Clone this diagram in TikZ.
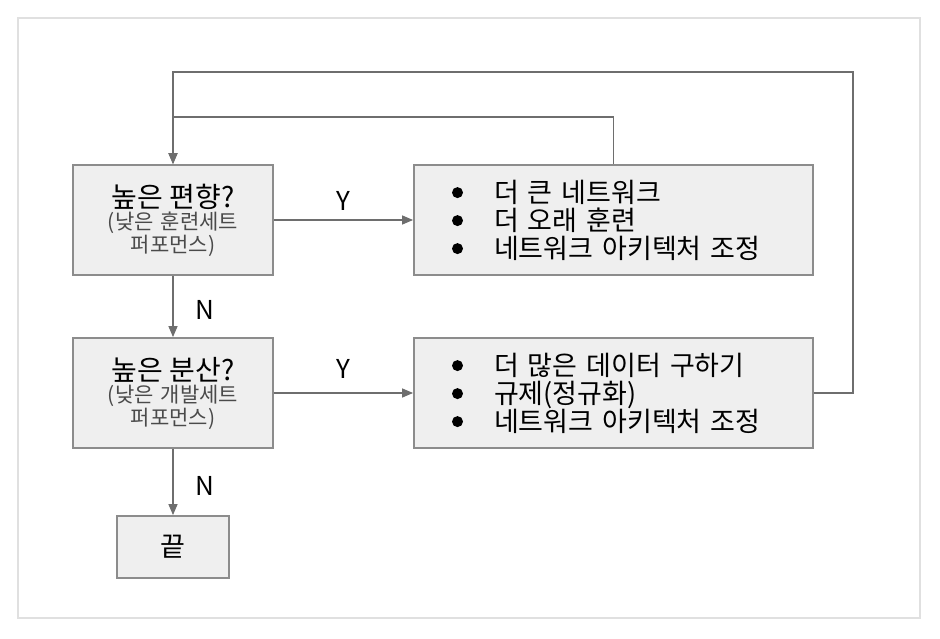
\documentclass[tikz,border=0pt]{standalone}
\usepackage{fontspec}
\setmainfont{Noto Sans CJK KR}
\usetikzlibrary{arrows.meta}

\definecolor{boxfill}{HTML}{EFEFEF}
\definecolor{boxline}{HTML}{8C8C8C}
\definecolor{linkline}{HTML}{6E6E6E}
\definecolor{frameline}{HTML}{E0E0E0}
\definecolor{subtext}{HTML}{4A4A4A}

\newcommand{\bul}{\makebox[42pt][l]{\tikz[baseline=-9.5pt]\fill (0,0) circle (5.5pt);}}

\begin{document}
\begin{tikzpicture}
  [x=1pt,y=-1pt,
   box/.style={draw=boxline,fill=boxfill,line width=1.8pt,inner sep=0pt,text=black},
   test/.style={box,minimum width=200pt,minimum height=110pt,text width=200pt,align=center,
     font=\fontsize{21}{22.5}\selectfont},
   fixbox/.style={box,minimum height=110pt,text width=323pt,inner xsep=38pt,align=left,
     font=\fontsize{27}{28}\selectfont},
   link/.style={draw=linkline,line width=1.4pt,-{Triangle[length=11pt,width=9pt]}},
   yn/.style={font=\fontsize{26}{26}\selectfont,text=black}]
  \useasboundingbox (0,0) rectangle (940,638);
  \draw[frameline,line width=1.2pt] (18,18) rectangle (920,618);

  % tests
  \node[test] (bias) at (173,220) {{\fontsize{28}{23}\selectfont 높은 편향?}\\
    \color{subtext}(낮은 훈련세트\\ 퍼포먼스)};
  \node[test] (var) at (173,393) {{\fontsize{28}{23}\selectfont 높은 분산?}\\
    \color{subtext}(낮은 개발세트\\ 퍼포먼스)};
  \node[box,minimum width=112pt,minimum height=62pt,font=\fontsize{27}{27}\selectfont] (done) at (173,547) {끝};

  % fixes
  \node[fixbox] (biasfix) at (613.5,220) {\bul 더 큰 네트워크\\ \bul 더 오래 훈련\\ \bul 네트워크 아키텍처 조정};
  \node[fixbox] (varfix) at (613.5,393) {\bul 더 많은 데이터 구하기\\ \bul 규제(정규화)\\ \bul 네트워크 아키텍처 조정};

  \foreach \from/\to in {bias.east/biasfix.west, var.east/varfix.west, bias.south/var.north, var.south/done.north}
    \draw[link] (\from) -- (\to);

  \draw[link] (biasfix.north) |- ([yshift=47pt]bias.north) -- (bias.north);
  \draw[link] (varfix.east) -- ++(39,0) |- ([yshift=92pt]bias.north) -- (bias.north);

  \node[yn] (ybias) at (343,201) {Y};
  \node[yn] (yvar) at (343,369) {Y};
  \node[yn] (nbias) at (205,310) {N};
  \node[yn] (nvar) at (205,486) {N};
\end{tikzpicture}
\end{document}
